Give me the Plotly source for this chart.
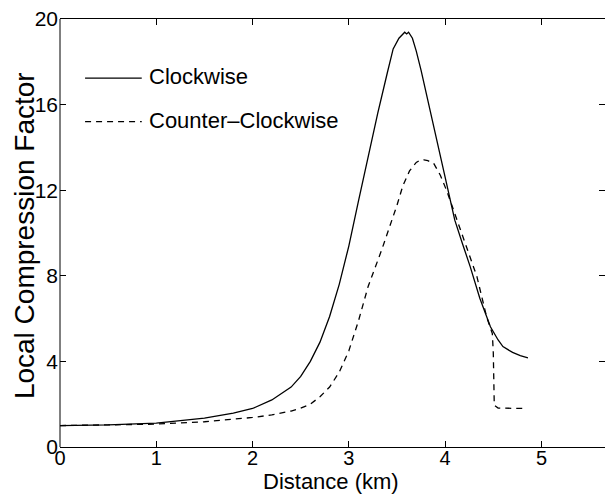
import plotly.graph_objects as go

# Local compression factor along the track, clockwise vs counter-clockwise
cw_x = [0, 0.5, 1.0, 1.5, 1.8, 2.0, 2.2, 2.4, 2.5, 2.6, 2.7, 2.8, 2.9, 3.0, 3.1,
        3.2, 3.3, 3.4, 3.46, 3.52, 3.56, 3.58, 3.60, 3.62, 3.66, 3.70, 3.75, 3.81,
        3.88, 3.95, 4.02, 4.10, 4.18, 4.26, 4.36, 4.47, 4.55, 4.60, 4.70, 4.78, 4.86]
cw_y = [1.0, 1.03, 1.12, 1.35, 1.58, 1.8, 2.2, 2.8, 3.3, 4.0, 4.9, 6.1, 7.6, 9.4, 11.5,
        13.6, 15.6, 17.5, 18.6, 19.1, 19.3, 19.38, 19.3, 19.38, 19.1, 18.5, 17.6, 16.4,
        15.0, 13.6, 12.2, 10.6, 9.5, 8.43, 6.95, 5.62, 5.0, 4.69, 4.42, 4.27, 4.17]

ccw_x = [0, 0.5, 1.0, 1.5, 2.0, 2.2, 2.4, 2.5, 2.6, 2.7, 2.8, 2.9, 3.0, 3.1, 3.2,
         3.34, 3.45, 3.50, 3.56, 3.63, 3.70, 3.74, 3.78, 3.82, 3.88, 3.95, 4.02, 4.10,
         4.17, 4.25, 4.33, 4.43, 4.49, 4.50, 4.51, 4.55, 4.81]
ccw_y = [1.0, 1.02, 1.07, 1.18, 1.38, 1.5, 1.68, 1.82, 2.0, 2.35, 2.8, 3.5, 4.5, 5.9, 7.5,
         9.2, 10.6, 11.3, 12.2, 12.9, 13.3, 13.4, 13.42, 13.38, 13.26, 12.7, 11.93, 10.9,
         9.98, 8.97, 7.96, 6.09, 5.3, 4.4, 1.95, 1.82, 1.80]

series_names = ["Clockwise", "Counter\u2013Clockwise"]
x_ticks = [0, 1, 2, 3, 4, 5]
y_ticks = [0, 4, 8, 12, 16, 20]
x_title = "Distance (km)"
y_title = "Local Compression Factor"

FONT = "Liberation Sans, Arial, Helvetica, sans-serif"

fig = go.Figure()
fig.add_trace(go.Scatter(x=cw_x, y=cw_y, mode="lines", name=series_names[0],
                         line=dict(color="black", width=1.3), showlegend=False))
fig.add_trace(go.Scatter(x=ccw_x, y=ccw_y, mode="lines", name=series_names[1],
                         line=dict(color="black", width=1.3, dash="6px,5px"),
                         showlegend=False))

# Box-less legend drawn as line samples with text
legend_rows = [(0.862, "solid"), (0.760, "6px,5px")]
for (yp, dash), label in zip(legend_rows, series_names):
    fig.add_shape(type="line", xref="paper", yref="paper",
                  x0=0.046, x1=0.150, y0=yp, y1=yp,
                  line=dict(color="black", width=1.3, dash=dash))
    fig.add_annotation(xref="paper", yref="paper", x=0.160, y=yp + 0.004, text=label,
                       showarrow=False, xanchor="left", yanchor="middle",
                       font=dict(family=FONT, size=22, color="black"))

# Left border of the axes box (the right one falls outside the canvas)
fig.add_shape(type="line", xref="paper", yref="paper", x0=0, x1=0, y0=0, y1=1,
              line=dict(color="black", width=1))

# Axis titles
fig.add_annotation(xref="paper", yref="paper", x=0.498, y=0.0, yshift=-48,
                   text=x_title, showarrow=False, xanchor="center", yanchor="bottom",
                   borderpad=0, font=dict(family=FONT, size=22, color="black"))
fig.add_annotation(xref="paper", yref="paper", x=-0.064, y=0.493, text=y_title,
                   textangle=-90, showarrow=False, xanchor="center", yanchor="middle",
                   font=dict(family=FONT, size=28, color="black"))

tick_common = dict(ticks="inside", ticklen=6, tickcolor="black", showgrid=False,
                   zeroline=False)

fig.update_layout(
    width=605, height=495,
    margin=dict(l=60, r=0, t=19, b=48),
    paper_bgcolor="white", plot_bgcolor="white",
    xaxis=dict(range=[0, 5.66], tickvals=x_ticks, showline=True, linecolor="black",
               linewidth=1, mirror="ticks", ticklabelstandoff=-7,
               tickfont=dict(family=FONT, size=20, color="black"), **tick_common),
    yaxis=dict(range=[0, 20], tickvals=y_ticks, showline=False, mirror="ticks",
               ticklabelstandoff=1,
               tickfont=dict(family=FONT, size=21, color="black"), **tick_common),
)

fig.write_html("out.html")
